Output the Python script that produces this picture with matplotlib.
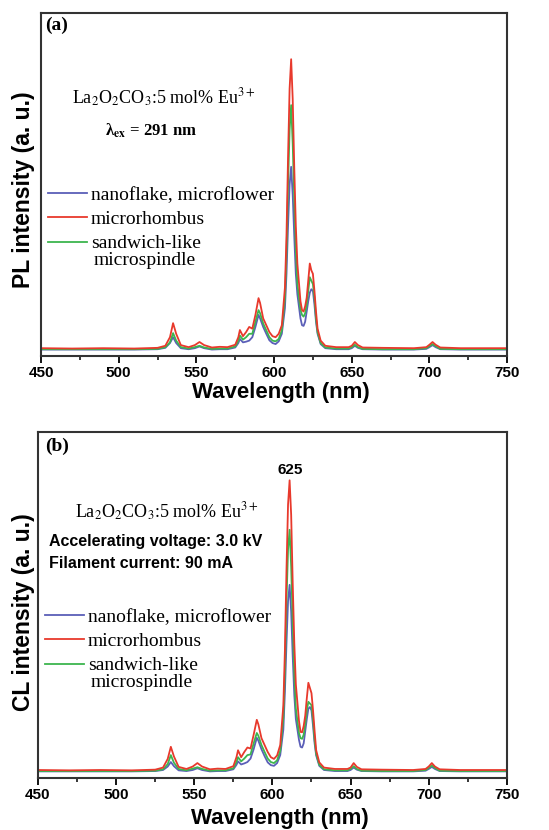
import matplotlib
matplotlib.use("Agg")
import matplotlib.pyplot as plt

plt.rcParams['mathtext.fontset'] = 'stix'

# wavelength grid (nm) shared by all spectra
wl = [450, 470, 490, 510, 525, 530, 533, 535, 537, 540, 545, 549, 552, 555, 560,
      565, 570, 575, 577, 578, 580, 582, 584, 586, 588, 590, 591, 593, 595, 597,
      599, 601, 603, 605, 607, 608, 609, 610, 611, 612, 613, 614, 615, 617, 618,
      619, 620, 621, 622, 623, 624, 625, 626, 627, 628, 630, 633, 640, 648, 650,
      652, 654, 657, 670, 690, 698, 700, 702, 704, 707, 720, 750]

# (a) PL spectra
pl_blue = [1.9, 1.9, 1.9, 1.9, 2.0, 2.4, 3.8, 5.5, 3.8, 2.3, 2.0, 2.3, 2.8, 2.3, 1.9,
           2.0, 2.0, 2.5, 3.8, 5.0, 4.0, 4.2, 4.5, 5.5, 8.5, 12.0, 11.0, 8.5, 6.5, 4.6,
           3.8, 3.5, 4.3, 6.5, 14.0, 24.0, 38.0, 50.0, 55.2, 47.0, 35.0, 24.0, 18.0, 11.0, 9.0,
           8.8, 10.0, 13.0, 16.0, 18.5, 19.5, 19.0, 15.0, 10.0, 6.5, 3.5, 2.3, 2.0, 2.0, 2.3,
           3.0, 2.4, 2.0, 1.9, 1.9, 2.1, 2.6, 3.2, 2.6, 2.0, 1.9, 1.9]
pl_red = [2.3, 2.2, 2.3, 2.2, 2.4, 3.0, 5.5, 9.6, 6.5, 3.2, 2.6, 3.2, 4.1, 3.2, 2.5,
          2.7, 2.6, 3.3, 5.5, 7.6, 5.8, 7.0, 8.5, 8.0, 12.0, 16.9, 15.5, 11.0, 9.0, 7.0,
          5.8, 5.5, 6.5, 9.0, 20.0, 35.0, 58.0, 78.0, 86.6, 75.0, 55.0, 38.0, 27.0, 16.0, 13.4,
          13.0, 14.5, 17.0, 22.0, 27.0, 25.0, 24.0, 19.0, 13.0, 8.0, 4.5, 3.0, 2.6, 2.6, 3.0,
          4.1, 3.2, 2.5, 2.4, 2.3, 2.6, 3.3, 4.1, 3.3, 2.5, 2.3, 2.3]
pl_green = [2.0, 2.0, 2.0, 2.0, 2.1, 2.6, 4.0, 6.7, 4.5, 2.6, 2.2, 2.6, 3.0, 2.5, 2.1,
            2.2, 2.2, 2.8, 4.5, 6.0, 4.8, 5.5, 6.5, 6.5, 10.0, 13.4, 12.5, 9.5, 7.5, 5.5,
            4.5, 4.3, 5.0, 7.5, 17.0, 30.0, 50.0, 66.0, 73.2, 62.0, 46.0, 31.0, 21.0, 13.5, 12.0,
            11.5, 12.5, 15.0, 19.0, 23.0, 22.0, 21.0, 17.0, 11.0, 7.0, 3.8, 2.5, 2.2, 2.2, 2.6,
            3.3, 2.6, 2.1, 2.0, 2.0, 2.3, 2.9, 3.5, 2.9, 2.1, 2.0, 2.0]

# (b) CL spectra
cl_blue = [1.9, 1.9, 1.9, 1.9, 2.0, 2.3, 3.3, 4.6, 3.4, 2.2, 2.0, 2.3, 2.8, 2.3, 1.9,
           2.0, 2.0, 2.5, 3.8, 4.8, 3.9, 4.2, 4.6, 5.6, 8.3, 11.6, 10.8, 8.3, 6.3, 4.5,
           3.7, 3.5, 4.3, 6.6, 14.0, 25.0, 39.0, 51.0, 55.8, 48.0, 35.0, 24.0, 17.0, 11.0, 9.0,
           8.8, 10.0, 13.5, 17.0, 20.0, 20.5, 19.5, 15.0, 10.0, 6.5, 3.5, 2.3, 2.0, 2.0, 2.3,
           3.0, 2.4, 2.0, 1.9, 1.9, 2.1, 2.6, 3.2, 2.6, 2.0, 1.9, 1.9]
cl_red = [2.3, 2.2, 2.3, 2.2, 2.4, 3.0, 5.5, 9.0, 6.2, 3.2, 2.6, 3.3, 4.3, 3.3, 2.5,
          2.7, 2.6, 3.4, 6.0, 8.0, 6.0, 7.5, 8.8, 8.5, 12.5, 16.8, 15.5, 11.5, 9.5, 7.5,
          6.0, 5.5, 6.5, 9.5, 21.0, 37.0, 60.0, 79.0, 86.0, 76.0, 56.0, 39.0, 27.0, 16.5, 13.3,
          13.2, 15.0, 18.0, 23.0, 27.5, 26.0, 24.5, 19.5, 13.5, 8.0, 4.5, 3.0, 2.6, 2.6, 3.0,
          4.3, 3.2, 2.5, 2.4, 2.3, 2.6, 3.3, 4.3, 3.3, 2.5, 2.3, 2.3]
cl_green = [2.0, 2.0, 2.0, 2.0, 2.1, 2.5, 4.0, 6.6, 4.4, 2.6, 2.2, 2.7, 3.1, 2.6, 2.1,
            2.2, 2.2, 2.8, 4.6, 6.0, 4.8, 5.6, 6.6, 6.8, 10.0, 13.0, 12.2, 9.5, 7.5, 5.6,
            4.6, 4.3, 5.1, 7.8, 17.5, 31.0, 51.0, 66.0, 71.7, 61.0, 45.0, 30.0, 20.0, 13.0, 11.5,
            11.3, 12.5, 15.5, 19.5, 22.0, 21.5, 21.0, 17.0, 11.0, 7.0, 3.8, 2.5, 2.2, 2.2, 2.6,
            3.4, 2.6, 2.1, 2.0, 2.0, 2.3, 2.9, 3.6, 2.9, 2.1, 2.0, 2.0]

labels = ['nanoflake, microflower', 'microrhombus', 'sandwich-like']
label_cont = 'microspindle'  # second line of the third legend entry
colors = ['#5b5fb8', '#e8392c', '#3db54e']
xticks = [450, 500, 550, 600, 650, 700, 750]

serif = 'Liberation Serif'
sans = 'Liberation Sans'

fig = plt.figure(figsize=(5.49, 8.3), dpi=100)
ax_a = fig.add_axes([0.0747, 0.571, 0.849, 0.413])
ax_b = fig.add_axes([0.0692, 0.0627, 0.854, 0.417])


def style_axis(ax, ylabel, lab_x, lab_y, xl_y):
    ax.set_xlim(450, 750)
    ax.set_ylim(0, 100)
    ax.set_yticks([])
    ax.set_xticks(xticks)
    ax.set_xticks(range(475, 750, 50), minor=True)
    ax.tick_params(axis='x', which='major', direction='out', length=5, width=1.3,
                   pad=2, labelsize=11)
    ax.tick_params(axis='x', which='minor', direction='out', length=3, width=1.1)
    for lbl in ax.get_xticklabels():
        lbl.set_fontfamily(sans)
        lbl.set_fontweight('bold')
    for s in ax.spines.values():
        s.set_linewidth(1.5)
        s.set_color('#333333')
    ax.set_xlabel('Wavelength (nm)', fontfamily=sans, fontweight='bold', fontsize=16)
    ax.xaxis.set_label_coords(0.515, xl_y)
    ax.set_ylabel(ylabel, fontfamily=sans, fontweight='bold', fontsize=16.5)
    ax.yaxis.set_label_coords(lab_x, lab_y)


def draw(ax, blue, red, green, anchor, cont_xy):
    l_blue, = ax.plot(wl, blue, color=colors[0], lw=1.3)
    l_green, = ax.plot(wl, green, color=colors[2], lw=1.3)
    l_red, = ax.plot(wl, red, color=colors[1], lw=1.3)
    ax.legend([l_blue, l_red, l_green], labels, loc='upper left', frameon=False,
              prop={'family': serif, 'size': 14}, handlelength=2.0,
              handletextpad=0.2, labelspacing=0.35, borderaxespad=0, borderpad=0,
              bbox_to_anchor=anchor)
    ax.text(cont_xy[0], cont_xy[1], label_cont, transform=ax.transAxes,
            fontfamily=serif, fontsize=14, va='center', ha='left')


draw(ax_a, pl_blue, pl_red, pl_green, (0.015, 0.496), (0.112, 0.28))
style_axis(ax_a, 'PL intensity (a. u.)', -0.013, 0.484, -0.076)
ax_a.text(0.009, 0.965, '(a)', transform=ax_a.transAxes, fontfamily=serif,
          fontweight='bold', fontsize=14, va='center', ha='left')
ax_a.text(0.067, 0.752, 'La$_2$O$_2$CO$_3$:5 mol% Eu$^{3+}$', transform=ax_a.transAxes,
          fontfamily=serif, fontsize=13, va='center', ha='left')
ax_a.text(0.137, 0.656, 'λ$_{\\mathbf{ex}}$ = 291 nm', transform=ax_a.transAxes,
          fontfamily=serif, fontweight='bold', fontsize=12, va='center', ha='left')

draw(ax_b, cl_blue, cl_red, cl_green, (0.015, 0.491), (0.113, 0.275))
style_axis(ax_b, 'CL intensity (a. u.)', -0.006, 0.48, -0.087)
ax_b.text(0.015, 0.957, '(b)', transform=ax_b.transAxes, fontfamily=serif,
          fontweight='bold', fontsize=14, va='center', ha='left')
ax_b.text(0.537, 0.89, '625', transform=ax_b.transAxes, fontfamily=sans,
          fontweight='bold', fontsize=11, va='center', ha='center')
ax_b.text(0.079, 0.769, 'La$_2$O$_2$CO$_3$:5 mol% Eu$^{3+}$', transform=ax_b.transAxes,
          fontfamily=serif, fontsize=13, va='center', ha='left')
ax_b.text(0.023, 0.682, 'Accelerating voltage: 3.0 kV', transform=ax_b.transAxes,
          fontfamily=sans, fontweight='bold', fontsize=11.5, va='center', ha='left')
ax_b.text(0.023, 0.621, 'Filament current: 90 mA', transform=ax_b.transAxes,
          fontfamily=sans, fontweight='bold', fontsize=11.5, va='center', ha='left')

fig.savefig('out.png', dpi=100)
